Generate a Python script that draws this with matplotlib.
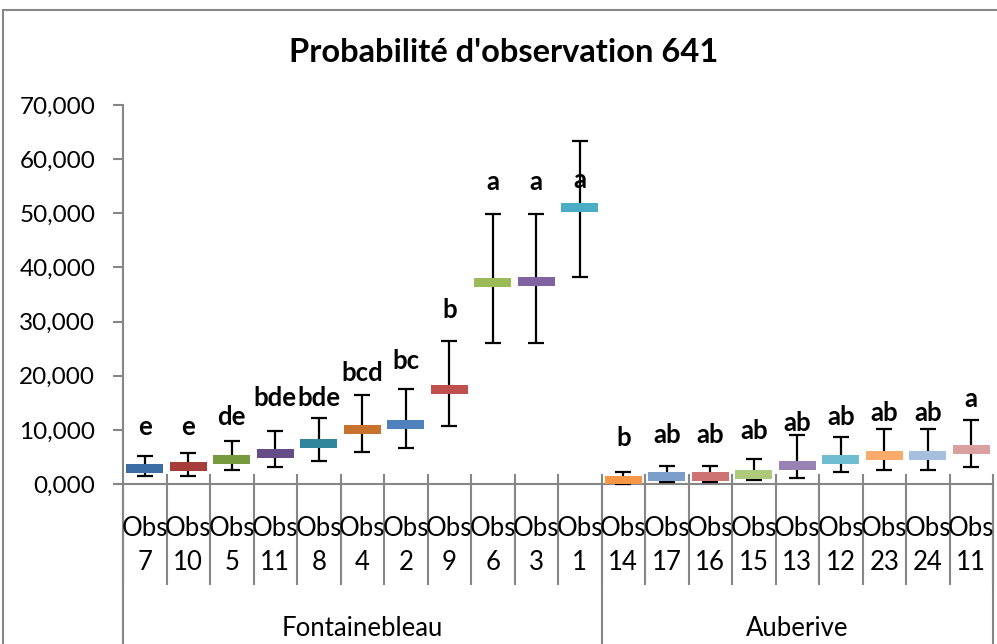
import matplotlib
matplotlib.use("Agg")
import matplotlib.pyplot as plt
import matplotlib.transforms as mtransforms
from matplotlib.patches import Rectangle
from matplotlib.ticker import FuncFormatter

plt.rcParams['font.family'] = ['Lato', 'DejaVu Sans']

# data
groups = ["Fontainebleau", "Auberive"]
group_sizes = [11, 9]
obs_numbers = ["7", "10", "5", "11", "8", "4", "2", "9", "6", "3", "1",
               "14", "17", "16", "15", "13", "12", "23", "24", "11"]
means = [2.8, 3.2, 4.6, 5.6, 7.4, 10.1, 11.0, 17.5, 37.3, 37.4, 51.0,
         0.6, 1.3, 1.3, 1.8, 3.5, 4.6, 5.2, 5.2, 6.3]
upper = [5.2, 5.7, 8.0, 9.8, 12.2, 16.4, 17.5, 26.4, 49.8, 49.8, 63.3,
         2.2, 3.4, 3.4, 4.6, 9.1, 8.6, 10.1, 10.1, 11.9]
lower = [1.4, 1.4, 2.5, 3.1, 4.2, 6.0, 6.6, 10.8, 26.1, 26.1, 38.3,
         0.0, 0.4, 0.4, 0.7, 1.1, 2.2, 2.6, 2.6, 3.1]
letters = ["e", "e", "de", "bde", "bde", "bcd", "bc", "b", "a", "a", "a",
           "b", "ab", "ab", "ab", "ab", "ab", "ab", "ab", "a"]
letter_y = [10.5, 10.5, 12.4, 15.9, 15.9, 20.5, 22.7, 32.1, 55.8, 55.8, 56.1,
            8.5, 9.0, 9.0, 9.7, 11.3, 12.4, 13.2, 13.2, 15.7]
colors = ["#3B6CA3", "#A63D3A", "#779A3F", "#654C86", "#31869B", "#C7732E",
          "#4F81BD", "#C0504D", "#9BBB59", "#8064A2", "#4BACC6",
          "#F79646", "#7C9ECB", "#CD7371", "#AFC97A", "#9983B5", "#6FBDD1",
          "#F9AB6B", "#A7BFDE", "#D9A09F"]

W, H = 997, 644
fig = plt.figure(figsize=(W / 100, H / 100), dpi=100)
fig.patch.set_facecolor("white")

# outer chart frame (cut at right / bottom in the reference)
fig.patches.append(Rectangle((3 / W, -0.1), 1.2, 1 - 10 / H + 0.1,
                             transform=fig.transFigure, fill=False,
                             edgecolor="#878787", linewidth=1.5))

ax_left, ax_right, ax_top, ax_bot = 123, 993, 105, 484
ax = fig.add_axes([ax_left / W, 1 - ax_bot / H,
                   (ax_right - ax_left) / W, (ax_bot - ax_top) / H])
px_per_unit = (ax_bot - ax_top) / 70.0

n = len(means)
x = list(range(n))
ax.set_xlim(-0.5, n - 0.5)
ax.set_ylim(0, 70)

yerr = [[m - lo for m, lo in zip(means, lower)],
        [hi - m for m, hi in zip(means, upper)]]
ax.errorbar(x, means, yerr=yerr, fmt="none", ecolor="black",
            elinewidth=1.6, capsize=6, capthick=1.6, zorder=2, clip_on=False)

box_h = 9 / px_per_unit
ax.bar(x, [box_h] * n, bottom=[m - box_h / 2 for m in means], width=0.85,
       color=colors, edgecolor="none", zorder=3)

for xi, lab, ly in zip(x, letters, letter_y):
    ax.text(xi, ly, lab, ha="center", va="center", fontsize=18.5,
            fontweight="bold", color="black", zorder=4)

# axes styling
for s in ["top", "right", "bottom"]:
    ax.spines[s].set_visible(False)
ax.spines["left"].set_color("#868686")
ax.spines["left"].set_linewidth(1.5)
ax.set_yticks(range(0, 71, 10))
ax.yaxis.set_major_formatter(FuncFormatter(lambda v, p: f"{int(v)},000"))
ax.tick_params(axis="y", direction="out", length=7, width=1.5,
               color="#868686", labelsize=17.5, pad=13)
ax.set_xticks([])

axis_h = ax_bot - ax_top
trans = mtransforms.blended_transform_factory(ax.transData, ax.transAxes)
grey = "#868686"
# category baseline
ax.plot([-0.5, n - 0.5], [0, 0], color=grey, lw=1.5, transform=trans,
        clip_on=False, zorder=1)
# category separators
tick_top = 9 / axis_h
tick_bot = -(584 - ax_bot) / axis_h
for i in range(n + 1):
    ax.plot([i - 0.5, i - 0.5], [tick_top, tick_bot], color=grey, lw=1.5,
            transform=trans, clip_on=False, zorder=1)
# group separators
bottom_frac = -(H - ax_bot + 5) / axis_h
edges = [-0.5]
for g in group_sizes:
    edges.append(edges[-1] + g)
for e in edges:
    ax.plot([e, e], [0, bottom_frac], color=grey, lw=1.5, transform=trans,
            clip_on=False, zorder=1)

for xi, num in zip(x, obs_numbers):
    ax.text(xi, -(528 - ax_bot) / axis_h, "Obs", ha="center", va="center",
            fontsize=18.5, transform=trans)
    ax.text(xi, -(562 - ax_bot) / axis_h, num, ha="center", va="center",
            fontsize=18.5, transform=trans)

for gi, g in enumerate(groups):
    cx = (edges[gi] + edges[gi + 1]) / 2
    ax.text(cx, -(628 - ax_bot) / axis_h, g, ha="center", va="center",
            fontsize=18.5, transform=trans)

fig.text(504 / W, 1 - 53 / H, "Probabilité d'observation 641",
         ha="center", va="center", fontsize=23.5, fontweight="bold")

fig.savefig("out.png", dpi=100, facecolor="white")
